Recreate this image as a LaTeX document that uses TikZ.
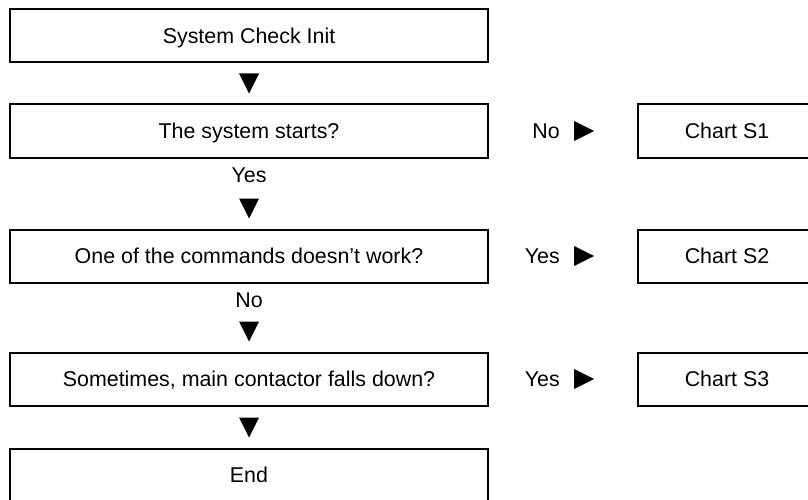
\documentclass[tikz,border=0pt]{standalone}
\usepackage{fontspec}
\setmainfont{Liberation Sans}
\usetikzlibrary{positioning,shapes.geometric}

\begin{document}
\begin{tikzpicture}[x=1pt, y=-1pt,
    every node/.style={font=\fontsize{21.4pt}{25pt}\selectfont},
    stepbox/.style={draw, line width=2pt, minimum width=478pt, minimum height=53pt,
        text height=15.3pt, text depth=0pt, inner sep=0pt},
    chartbox/.style={stepbox, minimum width=178pt},
    answer/.style={inner sep=0pt, text height=15.3pt, text depth=0pt},
    downtri/.style={isosceles triangle, isosceles triangle stretches, shape border rotate=270,
        fill=black, minimum width=20pt, minimum height=20pt, inner sep=0pt, outer sep=0pt},
    righttri/.style={downtri, shape border rotate=0}]

\clip (0,0) rectangle (808,500);

% main column
\node[stepbox] (init) at (249,36) {System Check Init};
\node[stepbox, below=40pt of init] (starts) {The system starts?};
\node[stepbox, below=70pt of starts] (cmds) {One of the commands doesn’t work?};
\node[stepbox, below=68pt of cmds] (contactor) {Sometimes, main contactor falls down?};
\node[stepbox, below=41pt of contactor] (finish) {End};

\node[downtri, above=10pt of starts] (d1) {};
\node[downtri, above=10pt of cmds] (d2) {};
\node[downtri, above=10pt of contactor] (d3) {};
\node[downtri, above=10pt of finish] (d4) {};

\node[answer, below=8pt of starts] (yes1) {Yes};
\node[answer, below=8pt of cmds] (no2) {No};

% side charts
\node[chartbox, right=148pt of starts] (s1) {Chart S1};
\node[chartbox, right=148pt of cmds] (s2) {Chart S2};
\node[chartbox, right=148pt of contactor] (s3) {Chart S3};

\node[righttri, left=43pt of s1] (r1) {};
\node[righttri, left=43pt of s2] (r2) {};
\node[righttri, left=43pt of s3] (r3) {};

\node[answer, left=14pt of r1] (no1) {No};
\node[answer, left=14pt of r2] (yes2) {Yes};
\node[answer, left=14pt of r3] (yes3) {Yes};

\end{tikzpicture}
\end{document}
